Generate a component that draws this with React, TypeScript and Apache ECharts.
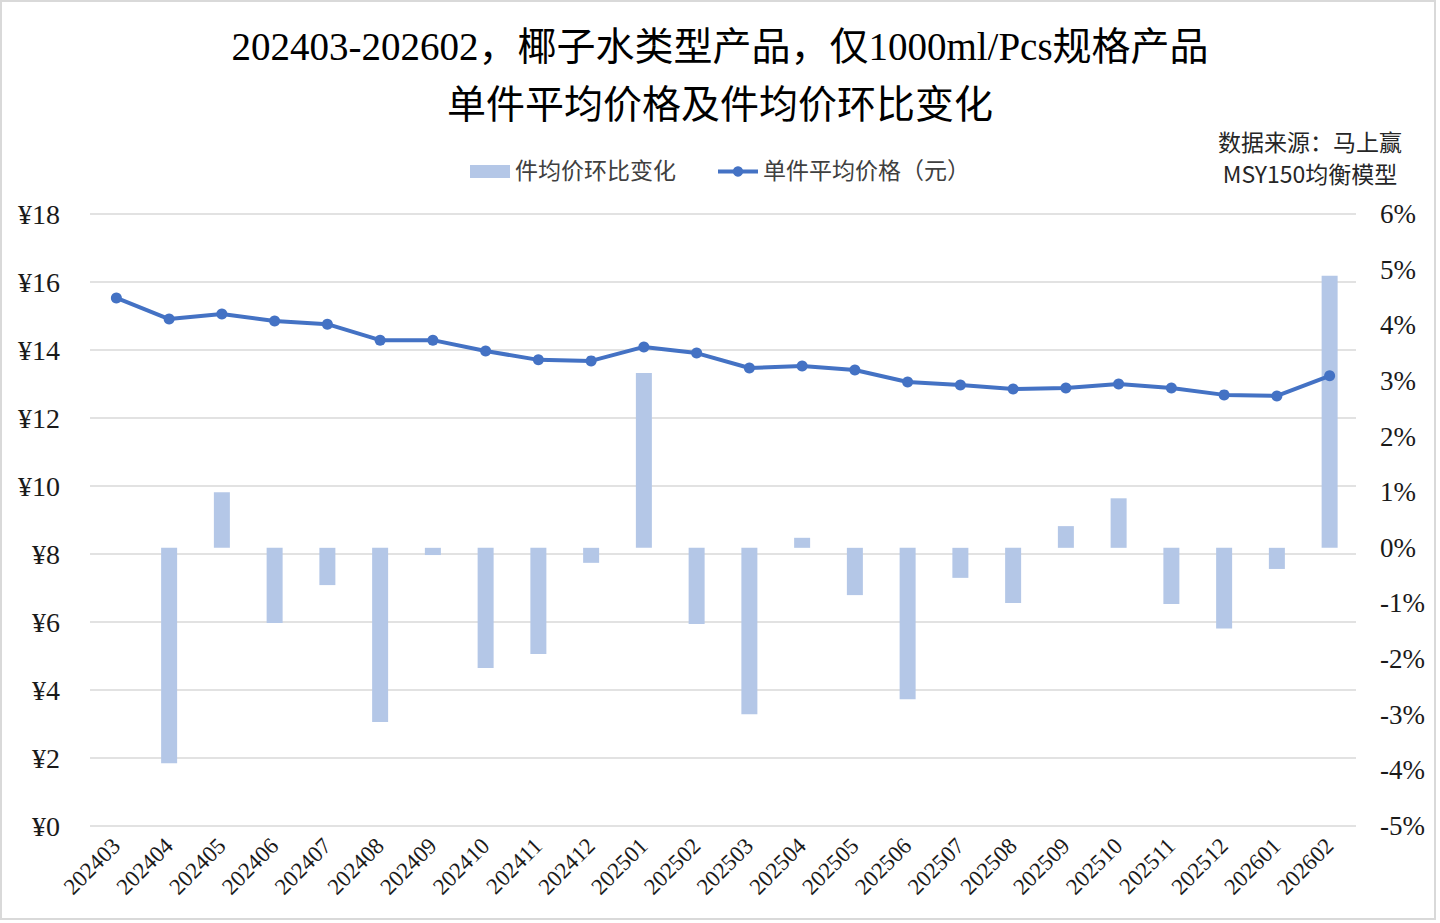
import * as echarts from 'echarts';
import { useEffect, useRef } from 'react';

const months = [
    '202403', '202404', '202405', '202406', '202407', '202408', '202409', '202410',
    '202411', '202412', '202501', '202502', '202503', '202504', '202505', '202506',
    '202507', '202508', '202509', '202510', '202511', '202512', '202601', '202602',
];

// 单件平均价格（元）
const avgPrice = [
    15.53, 14.91, 15.06, 14.85, 14.76, 14.29, 14.29, 13.97,
    13.71, 13.68, 14.09, 13.91, 13.47, 13.53, 13.41, 13.06,
    12.97, 12.85, 12.88, 13.0, 12.88, 12.68, 12.65, 13.24,
];

// 件均价环比变化 (%)
const momChange = [
    null, -3.87, 1.0, -1.35, -0.67, -3.13, -0.13, -2.16,
    -1.91, -0.27, 3.14, -1.37, -2.99, 0.18, -0.85, -2.72,
    -0.54, -0.99, 0.39, 0.89, -1.01, -1.45, -0.38, 4.89,
];

const serif = '"Liberation Serif", "Noto Sans CJK SC", serif';

const App = () => {
    const chartRef = useRef(null);

    useEffect(() => {
        const chart = echarts.init(chartRef.current, null, { renderer: 'svg' });

        const option = {
            animation: false,
            backgroundColor: '#fff',
            title: {
                text: '202403-202602，椰子水类型产品，仅1000ml/Pcs规格产品\n单件平均价格及件均价环比变化',
                left: 'center',
                top: 12,
                textStyle: {
                    fontFamily: serif,
                    fontSize: 39,
                    fontWeight: 'normal',
                    color: '#000',
                    lineHeight: 58,
                },
            },
            legend: {
                top: 155,
                left: 'center',
                itemGap: 40,
                itemWidth: 40,
                itemHeight: 13,
                textStyle: { fontFamily: serif, fontSize: 23, color: '#404040' },
                data: [
                    { name: '件均价环比变化', icon: 'rect' },
                    { name: '单件平均价格（元）', lineStyle: { width: 4 } },
                ],
            },
            graphic: [
                {
                    type: 'rect',
                    shape: { x: 1, y: 1, width: 1434, height: 918 },
                    style: { fill: 'none', stroke: '#D9D9D9', lineWidth: 2 },
                    silent: true,
                },
                {
                    type: 'text',
                    x: 1310,
                    y: 125,
                    style: {
                        text: '数据来源：马上赢\nMSY150均衡模型',
                        textAlign: 'center',
                        fontFamily: '"Noto Sans CJK SC", sans-serif',
                        fontSize: 23,
                        lineHeight: 32,
                        fill: '#262626',
                    },
                },
            ],
            grid: { left: 90, right: 84, top: 214, bottom: 97 },
            xAxis: {
                type: 'category',
                data: months,
                axisLine: { show: false },
                axisTick: { show: false },
                axisLabel: {
                    rotate: 45,
                    interval: 0,
                    margin: 16,
                    fontFamily: serif,
                    fontSize: 23,
                    color: '#1a1a1a',
                },
            },
            yAxis: [
                {
                    type: 'value',
                    min: 0,
                    max: 18,
                    interval: 2,
                    axisLine: { show: false },
                    axisTick: { show: false },
                    axisLabel: {
                        formatter: '¥{value}',
                        margin: 30,
                        fontFamily: serif,
                        fontSize: 28,
                        color: '#1a1a1a',
                    },
                    splitLine: { lineStyle: { color: '#D9D9D9', width: 1.5 } },
                },
                {
                    type: 'value',
                    min: -5,
                    max: 6,
                    interval: 1,
                    axisLine: { show: false },
                    axisTick: { show: false },
                    axisLabel: {
                        formatter: '{value}%',
                        margin: 24,
                        fontFamily: serif,
                        fontSize: 27,
                        color: '#1a1a1a',
                    },
                    splitLine: { show: false },
                },
            ],
            series: [
                {
                    name: '件均价环比变化',
                    type: 'bar',
                    yAxisIndex: 1,
                    data: momChange,
                    barWidth: 16,
                    itemStyle: { color: '#B4C7E7' },
                },
                {
                    name: '单件平均价格（元）',
                    type: 'line',
                    yAxisIndex: 0,
                    data: avgPrice,
                    symbol: 'circle',
                    symbolSize: 11,
                    lineStyle: { color: '#4472C4', width: 4 },
                    itemStyle: { color: '#4472C4' },
                    z: 3,
                },
            ],
        };

        chart.setOption(option);

        return () => {
            chart.dispose();
        };
    }, []);

    return (
        <div
            ref={chartRef}
            style={{ position: 'absolute', left: 0, top: 0, width: '1440px', height: '923px' }}
        />
    );
};

export default App;
